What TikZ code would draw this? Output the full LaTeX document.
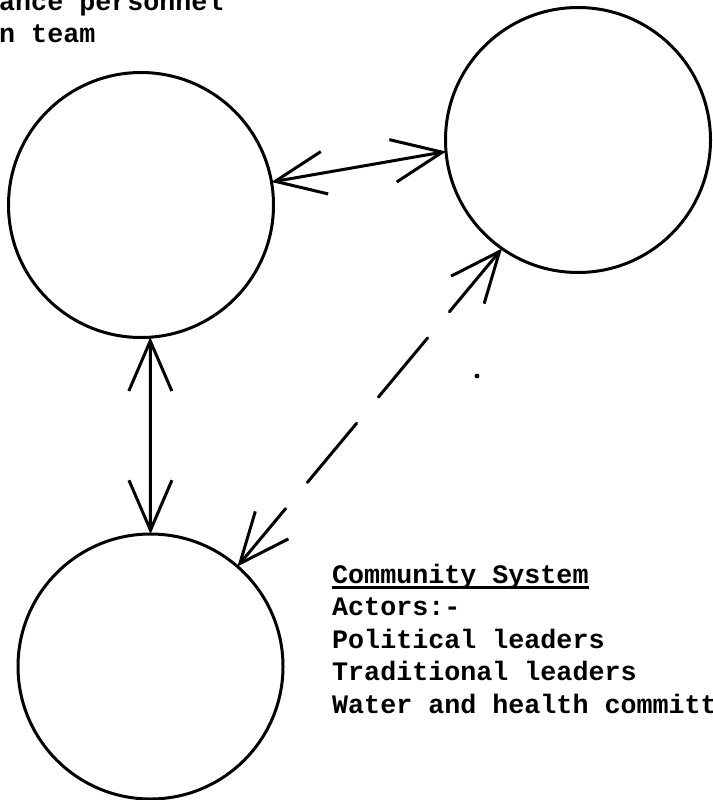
\documentclass[tikz,border=0pt]{standalone}
\usepackage{fontspec}
\newfontfamily\typewriter{Liberation Mono}
\usetikzlibrary{arrows.meta}
\begin{document}
\begin{tikzpicture}[x=1pt,y=-1pt,
  ring/.style={circle,draw,line width=3pt,minimum size=265pt,inner sep=0pt,outer sep=0pt},
  link/.style={line width=3pt,line cap=round,{Straight Barb[length=50pt,width=43pt]}-{Straight Barb[length=50pt,width=43pt]}},
  txt/.style={anchor=base west,inner sep=0pt,font=\typewriter\bfseries\fontsize{26.7}{32.5}\selectfont}]
\useasboundingbox (0,0) rectangle (712,800);
\fill[white] (0,0) rectangle (712,800);
\clip (0,0) rectangle (712,800);

\node[ring] (c1) at (141,205) {};
\node[ring] (c2) at (578,140) {};
\node[ring] (c3) at (150.5,666.5) {};

\draw[link] (c1.10) -- (c2.185);
\draw[link] (c1.274) -- (c3.90);
\draw[link,dash pattern=on 77pt off 34pt] (c2.235) -- (c3.49);

\fill (477,376) circle (2.4);

\node[txt] (t1) at (-1,11) {ance personnel};
\node[txt] (t2) at (-1,43) {n team};

\node[txt] (s0) at (332,583) {Community System};
\draw[line width=3pt] ([yshift=-4pt]s0.base west) -- ([yshift=-4pt]s0.base east);
\node[txt] (s1) at (332,615) {Actors:-};
\node[txt] (s2) at (332,648) {Political leaders};
\node[txt] (s3) at (332,680) {Traditional leaders};
\node[txt] (s4) at (332,713) {Water and health committ};
\end{tikzpicture}
\end{document}
